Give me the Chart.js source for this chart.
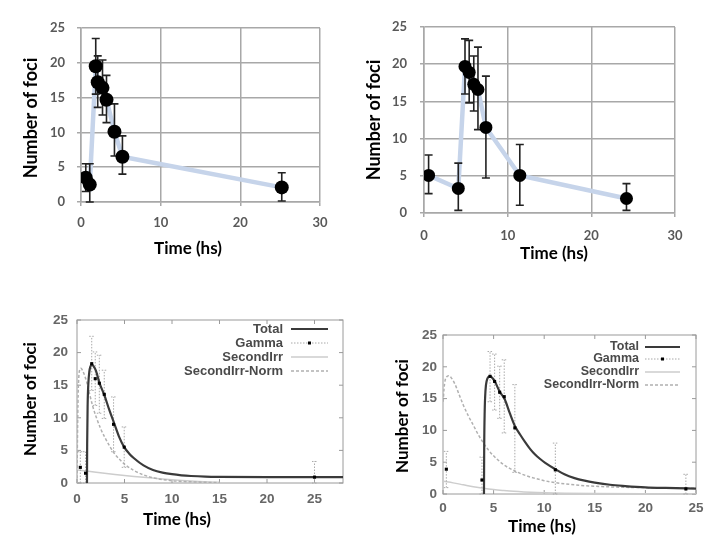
<!DOCTYPE html>
<html>
<head>
<meta charset="utf-8">
<script src="https://cdn.jsdelivr.net/npm/chart.js@4.4.0/dist/chart.umd.min.js"></script>
<style>
html,body{margin:0;padding:0;background:#fff;}
#wrap{position:relative;width:720px;height:546px;overflow:hidden;background:#fff;}
canvas{position:absolute;}
</style>
</head>
<body>
<div id="wrap">
<canvas id="cA" width="360" height="270" style="left:0px;top:0px;width:360px;height:270px"></canvas>
<canvas id="cB" width="360" height="270" style="left:360px;top:0px;width:360px;height:270px"></canvas>
<canvas id="cC" width="360" height="256" style="left:0px;top:290px;width:360px;height:256px"></canvas>
<canvas id="cD" width="360" height="256" style="left:360px;top:290px;width:360px;height:256px"></canvas>
</div>
<script>
// ---------- DATA ----------
// Panel A (top-left, measured foci)
const timeA  = [0.6, 1.1, 1.85, 2.1, 2.7, 3.2, 4.2, 5.2, 25.2];
const fociA  = [3.5, 2.5, 19.5, 17.2, 16.4, 14.7, 10.1, 6.5, 2.1];
const errHiA = [5.5, 5.5, 23.5, 21.0, 20.4, 18.2, 14.1, 9.5, 4.2];
const errLoA = [1.5, 0.0, 15.5, 13.6, 12.5, 11.4, 6.6, 4.0, 0.15];

// Panel B (top-right, measured foci)
const timeB  = [0.55, 4.1, 4.9, 5.4, 5.95, 6.45, 7.4, 11.45, 24.2];
const fociB  = [5.05, 3.3, 19.7, 18.9, 17.3, 16.6, 11.5, 5.05, 1.95];
const errHiB = [7.8, 6.7, 23.4, 23.2, 21.1, 22.3, 18.4, 9.2, 3.95];
const errLoB = [2.6, 0.35, 16.0, 14.8, 13.7, 11.2, 4.7, 1.05, 0.35];

// Panel C (bottom-left, model fit)
const timeC  = [0.35, 0.9, 1.55, 1.92, 2.35, 2.87, 3.85, 4.97, 25.0];
const fociC  = [2.4, 1.5, 18.3, 16.0, 15.3, 13.6, 9.0, 5.5, 0.9];
const errHiC = [4.8, 4.8, 22.5, 20.1, 19.6, 17.3, 13.2, 8.6, 3.3];
const errLoC = [0, 0, 14.2, 11.9, 10.7, 9.9, 4.8, 2.4, 0];
const totalTimeC = [1.05, 1.07, 1.12, 1.2, 1.3, 1.42, 1.55, 1.7, 2.0, 2.35, 2.87, 3.4, 3.9, 4.4, 4.97, 5.5, 6.0, 7.0, 8.0, 9.0, 10, 11, 12, 13.5, 15, 20, 25, 28];
const totalC     = [0, 6, 12, 15.4, 17.1, 17.9, 18.2, 18.0, 17.2, 15.4, 13.5, 11.2, 9.2, 7.2, 5.5, 4.5, 3.8, 2.7, 2.0, 1.6, 1.35, 1.18, 1.07, 0.97, 0.93, 0.9, 0.9, 0.9];
const normTimeC  = [0, 0.05, 0.12, 0.2, 0.3, 0.42, 0.6, 0.8, 1.0, 1.3, 1.65, 2.0, 2.5, 3.0, 3.5, 4.0, 4.5, 5.0, 6.0, 7.0, 8.0, 10, 12, 15];
const normC      = [0, 7, 13.5, 16.5, 17.4, 17.6, 17.2, 16.5, 15.6, 13.8, 11.8, 10.2, 8.3, 6.8, 5.5, 4.4, 3.6, 2.9, 1.9, 1.25, 0.8, 0.35, 0.18, 0.05];
const irrTimeC   = [0, 2, 4, 6, 8, 10, 12, 15];
const irrC       = [2.0, 1.65, 1.3, 1.0, 0.75, 0.5, 0.3, 0.1];

// Panel D (bottom-right, model fit)
const timeD  = [0.33, 3.85, 4.65, 5.1, 5.6, 6.05, 7.1, 11.1, 24.0];
const fociD  = [3.9, 2.2, 18.5, 17.7, 16.0, 15.3, 10.4, 3.8, 0.8];
const errHiD = [6.7, 5.8, 22.4, 22.0, 20.1, 21.1, 17.2, 8.0, 3.1];
const errLoD = [1.0, 0, 14.5, 13.2, 11.9, 9.6, 3.4, 0, 0];
const totalTimeD = [4.05, 4.07, 4.12, 4.2, 4.32, 4.48, 4.67, 4.9, 5.15, 5.6, 6.1, 6.6, 7.1, 7.6, 8.1, 8.6, 9.1, 9.6, 10.1, 11.1, 12, 13, 14, 15, 16.5, 18, 20, 22, 25];
const totalD     = [0, 7, 13, 16.3, 17.8, 18.4, 18.5, 18.2, 17.6, 16.1, 14.9, 12.7, 10.7, 9.4, 8.2, 7.1, 6.2, 5.5, 4.9, 3.9, 3.1, 2.5, 2.1, 1.8, 1.45, 1.25, 1.05, 0.95, 0.85];
const normTimeD  = [0.02, 0.1, 0.2, 0.35, 0.55, 0.8, 1.2, 1.6, 2.0, 2.5, 3.0, 3.5, 4.0, 4.5, 5.0, 6.0, 7.0, 8.0, 9.0, 10, 11, 12, 14, 16, 18, 20, 25];
const normD      = [14.5, 16.5, 17.8, 18.4, 18.6, 18.3, 17.2, 15.6, 14.0, 12.3, 10.8, 9.3, 8.0, 6.9, 6.0, 4.6, 3.7, 3.0, 2.5, 2.1, 1.8, 1.6, 1.3, 1.15, 1.05, 1.0, 0.9];
const irrTimeD   = [0.05, 1, 2, 3, 4, 5, 6, 7, 8, 10, 12, 15, 20, 25];
const irrD       = [2.0, 1.75, 1.45, 1.15, 0.9, 0.7, 0.55, 0.42, 0.33, 0.2, 0.12, 0.06, 0.02, 0.01];

const legendLabels = ['Total', 'Gamma', 'SecondIrr', 'SecondIrr-Norm'];
const yTitle = 'Number of foci';
const xTitle = 'Time (hs)';

// ---------- HELPERS ----------
const pts = (xs, ys) => xs.map((x, i) => ({x: x, y: ys[i]}));

Chart.defaults.animation = false;
Chart.defaults.plugins.legend.display = false;
Chart.defaults.plugins.tooltip.enabled = false;

function errorBars(cfg) {
  return {
    id: 'errorBars',
    afterDatasetDraw(chart, args) {
      if (args.index !== cfg.afterIndex) return;
      const ctx = chart.ctx, xs = chart.scales.x, ys = chart.scales.y;
      ctx.save();
      ctx.strokeStyle = cfg.color;
      ctx.lineWidth = cfg.width;
      ctx.setLineDash(cfg.dash || []);
      cfg.times.forEach((t, i) => {
        const px = xs.getPixelForValue(t);
        const pl = ys.getPixelForValue(cfg.lo[i]);
        const ph = ys.getPixelForValue(cfg.hi[i]);
        ctx.beginPath();
        ctx.moveTo(px, pl); ctx.lineTo(px, ph);
        ctx.moveTo(px - cfg.cap, pl); ctx.lineTo(px + cfg.cap, pl);
        ctx.moveTo(px - cfg.cap, ph); ctx.lineTo(px + cfg.cap, ph);
        ctx.stroke();
      });
      ctx.restore();
    }
  };
}

function axisTitles(items) {
  return {
    id: 'axisTitles',
    afterDraw(chart) {
      const ctx = chart.ctx;
      items.forEach(it => {
        ctx.save();
        ctx.font = it.font;
        ctx.fillStyle = it.color || '#000';
        ctx.textAlign = 'center';
        ctx.textBaseline = 'middle';
        ctx.translate(it.x, it.y);
        if (it.rot) ctx.rotate(-Math.PI / 2);
        ctx.fillText(it.text, 0, 0);
        ctx.restore();
      });
    }
  };
}

function gnuFrame() {
  return {
    id: 'gnuFrame',
    beforeDatasetsDraw(chart) {
      const ctx = chart.ctx, a = chart.chartArea;
      ctx.save();
      ctx.strokeStyle = '#9a9a9a';
      ctx.lineWidth = 1;
      ctx.strokeRect(a.left, a.top, a.right - a.left, a.bottom - a.top);
      const tl = 4;
      ctx.beginPath();
      chart.scales.x.ticks.forEach(t => {
        const px = chart.scales.x.getPixelForValue(t.value);
        ctx.moveTo(px, a.bottom); ctx.lineTo(px, a.bottom - tl);
        ctx.moveTo(px, a.top); ctx.lineTo(px, a.top + tl);
      });
      chart.scales.y.ticks.forEach(t => {
        const py = chart.scales.y.getPixelForValue(t.value);
        ctx.moveTo(a.left, py); ctx.lineTo(a.left + tl, py);
        ctx.moveTo(a.right, py); ctx.lineTo(a.right - tl, py);
      });
      ctx.stroke();
      ctx.restore();
    }
  };
}

function gnuLegend(cfg) {
  return {
    id: 'gnuLegend',
    afterDatasetsDraw(chart) {
      const ctx = chart.ctx;
      ctx.save();
      ctx.font = cfg.font;
      ctx.fillStyle = '#4a4a4a';
      ctx.textAlign = 'right';
      ctx.textBaseline = 'middle';
      cfg.rows.forEach((y, i) => {
        const ds = chart.data.datasets[cfg.order[i]];
        ctx.fillText(ds.label, cfg.textRight, y);
        ctx.save();
        if (ds.label === 'Gamma') {
          ctx.strokeStyle = '#a8a8a8';
          ctx.lineWidth = 1;
          ctx.setLineDash([1.5, 1.5]);
        } else {
          ctx.strokeStyle = ds.borderColor;
          ctx.lineWidth = ds.borderWidth;
          ctx.setLineDash(ds.borderDash || []);
        }
        ctx.beginPath();
        ctx.moveTo(cfg.x1, y); ctx.lineTo(cfg.x2, y);
        ctx.stroke();
        if (ds.label === 'Gamma') {
          ctx.fillStyle = '#000';
          const m = (cfg.x1 + cfg.x2) / 2;
          ctx.fillRect(m - 1.5, y - 1.5, 3, 3);
        }
        ctx.restore();
      });
      ctx.restore();
    }
  };
}

// ---------- TOP (Excel-style) CHARTS ----------
function topChart(id, times, foci, lo, hi, geom) {
  const tickFont = {family: 'Lato', weight: 'bold', size: 13};
  new Chart(document.getElementById(id), {
    type: 'line',
    data: {
      datasets: [
        {
          label: 'trend',
          data: pts(times, foci),
          borderColor: '#c6d4ea',
          borderWidth: 4.5,
          pointRadius: 0,
          tension: 0,
          order: 2
        },
        {
          label: 'foci',
          data: pts(times, foci),
          showLine: false,
          pointRadius: geom.r,
          pointBackgroundColor: '#000',
          pointBorderColor: '#000',
          pointBorderWidth: 0,
          order: 1
        }
      ]
    },
    options: {
      responsive: false,
      layout: {padding: {left: 0, right: geom.padRight, top: geom.padTop, bottom: 0}},
      scales: {
        x: {
          type: 'linear', min: 0, max: 30,
          afterFit: s => { s.height = geom.xH; },
          ticks: {stepSize: 10, color: '#595959', font: tickFont, padding: geom.xPad, maxRotation: 0},
          grid: {color: '#a8a8a8', lineWidth: 1.5, tickLength: 4, drawTicks: true},
          border: {color: '#a8a8a8', width: 1.5}
        },
        y: {
          type: 'linear', min: 0, max: 25,
          afterFit: s => { s.width = geom.yW; },
          ticks: {stepSize: 5, color: '#595959', font: tickFont, padding: geom.yPad},
          grid: {color: '#a8a8a8', lineWidth: 1.5, tickLength: 4, drawTicks: true},
          border: {color: '#a8a8a8', width: 1.5}
        }
      }
    },
    plugins: [
      errorBars({afterIndex: 0, times: times, lo: lo, hi: hi, color: '#222', width: 1.6, cap: 4}),
      axisTitles([
        {text: yTitle, x: geom.yT[0], y: geom.yT[1], rot: true, font: 'bold 18px Lato'},
        {text: xTitle, x: geom.xT[0], y: geom.xT[1], rot: false, font: 'bold 17px Lato'}
      ])
    ]
  });
}

topChart('cA', timeA, fociA, errLoA, errHiA,
  {r: 7, padRight: 40, padTop: 28, xH: 68, yW: 81, xPad: 9, yPad: 12, yT: [31, 118], xT: [188, 249]});
topChart('cB', timeB, fociB, errLoB, errHiB,
  {r: 6.5, padRight: 45, padTop: 27, xH: 57, yW: 64, xPad: 11, yPad: 13, yT: [14, 120], xT: [194, 254]});

// ---------- BOTTOM (gnuplot-style) CHARTS ----------
function bottomChart(id, g, d) {
  const tickFont = {family: 'Liberation Sans', weight: 'bold', size: 13.5};
  new Chart(document.getElementById(id), {
    type: 'line',
    data: {
      datasets: [
        {
          label: legendLabels[0],
          data: pts(d.totalT, d.total),
          borderColor: '#3a3a3a', borderWidth: 2.2,
          pointRadius: 0, cubicInterpolationMode: 'monotone', order: 1
        },
        {
          label: legendLabels[1],
          data: pts(d.t, d.f),
          showLine: false,
          pointStyle: 'rect', pointRadius: 2.2,
          pointBackgroundColor: '#000', pointBorderColor: '#000', pointBorderWidth: 0,
          borderColor: '#a8a8a8', borderWidth: 1, order: 0
        },
        {
          label: legendLabels[2],
          data: pts(d.irrT, d.irr),
          borderColor: '#cdcdcd', borderWidth: 1.5,
          pointRadius: 0, cubicInterpolationMode: 'monotone', order: 3
        },
        {
          label: legendLabels[3],
          data: pts(d.normT, d.norm),
          borderColor: '#b0b0b0', borderWidth: 1.5, borderDash: [3, 2],
          pointRadius: 0, cubicInterpolationMode: 'monotone', order: 2
        }
      ]
    },
    options: {
      responsive: false,
      layout: {padding: {left: 0, right: g.padRight, top: g.padTop, bottom: 0}},
      scales: {
        x: {
          type: 'linear', min: 0, max: g.xMax,
          afterFit: s => { s.height = g.xH; },
          afterBuildTicks: s => { s.ticks = s.ticks.filter(t => t.value % 5 === 0); },
          ticks: {stepSize: 5, color: '#666', font: tickFont, padding: g.xPad, maxRotation: 0},
          grid: {display: false, drawTicks: false},
          border: {display: false}
        },
        y: {
          type: 'linear', min: 0, max: 25,
          afterFit: s => { s.width = g.yW; },
          ticks: {stepSize: 5, color: '#666', font: tickFont, padding: g.yPad},
          grid: {display: false, drawTicks: false},
          border: {display: false}
        }
      }
    },
    plugins: [
      gnuFrame(),
      errorBars({afterIndex: 3, times: d.t, lo: d.lo, hi: d.hi, color: '#aaaaaa', width: 1, cap: 2.5, dash: [1.5, 1.5]}),
      gnuLegend({font: g.legFont, rows: g.legRows, textRight: g.legRight, x1: g.legX1, x2: g.legX2, order: [0, 1, 2, 3]}),
      axisTitles([
        {text: yTitle, x: g.yT[0], y: g.yT[1], rot: true, font: 'bold 17px Lato'},
        {text: xTitle, x: g.xT[0], y: g.xT[1], rot: false, font: 'bold 17px Lato'}
      ])
    ]
  });
}

bottomChart('cC',
  {padRight: 17, padTop: 30, xH: 63, yW: 77, xMax: 28, xPad: 8, yPad: 9,
   legFont: 'bold 13px "Liberation Sans"', legRows: [39, 53, 67, 81], legRight: 283, legX1: 291, legX2: 328,
   yT: [31, 109], xT: [177, 230]},
  {t: timeC, f: fociC, lo: errLoC, hi: errHiC, totalT: totalTimeC, total: totalC,
   normT: normTimeC, norm: normC, irrT: irrTimeC, irr: irrC});

bottomChart('cD',
  {padRight: 24, padTop: 45, xH: 52, yW: 83, xMax: 25, xPad: 6, yPad: 6,
   legFont: 'bold 12.5px "Liberation Sans"', legRows: [57, 69, 82, 95], legRight: 279, legX1: 285, legX2: 320,
   yT: [43, 126], xT: [182, 237]},
  {t: timeD, f: fociD, lo: errLoD, hi: errHiD, totalT: totalTimeD, total: totalD,
   normT: normTimeD, norm: normD, irrT: irrTimeD, irr: irrD});
</script>
</body>
</html>
